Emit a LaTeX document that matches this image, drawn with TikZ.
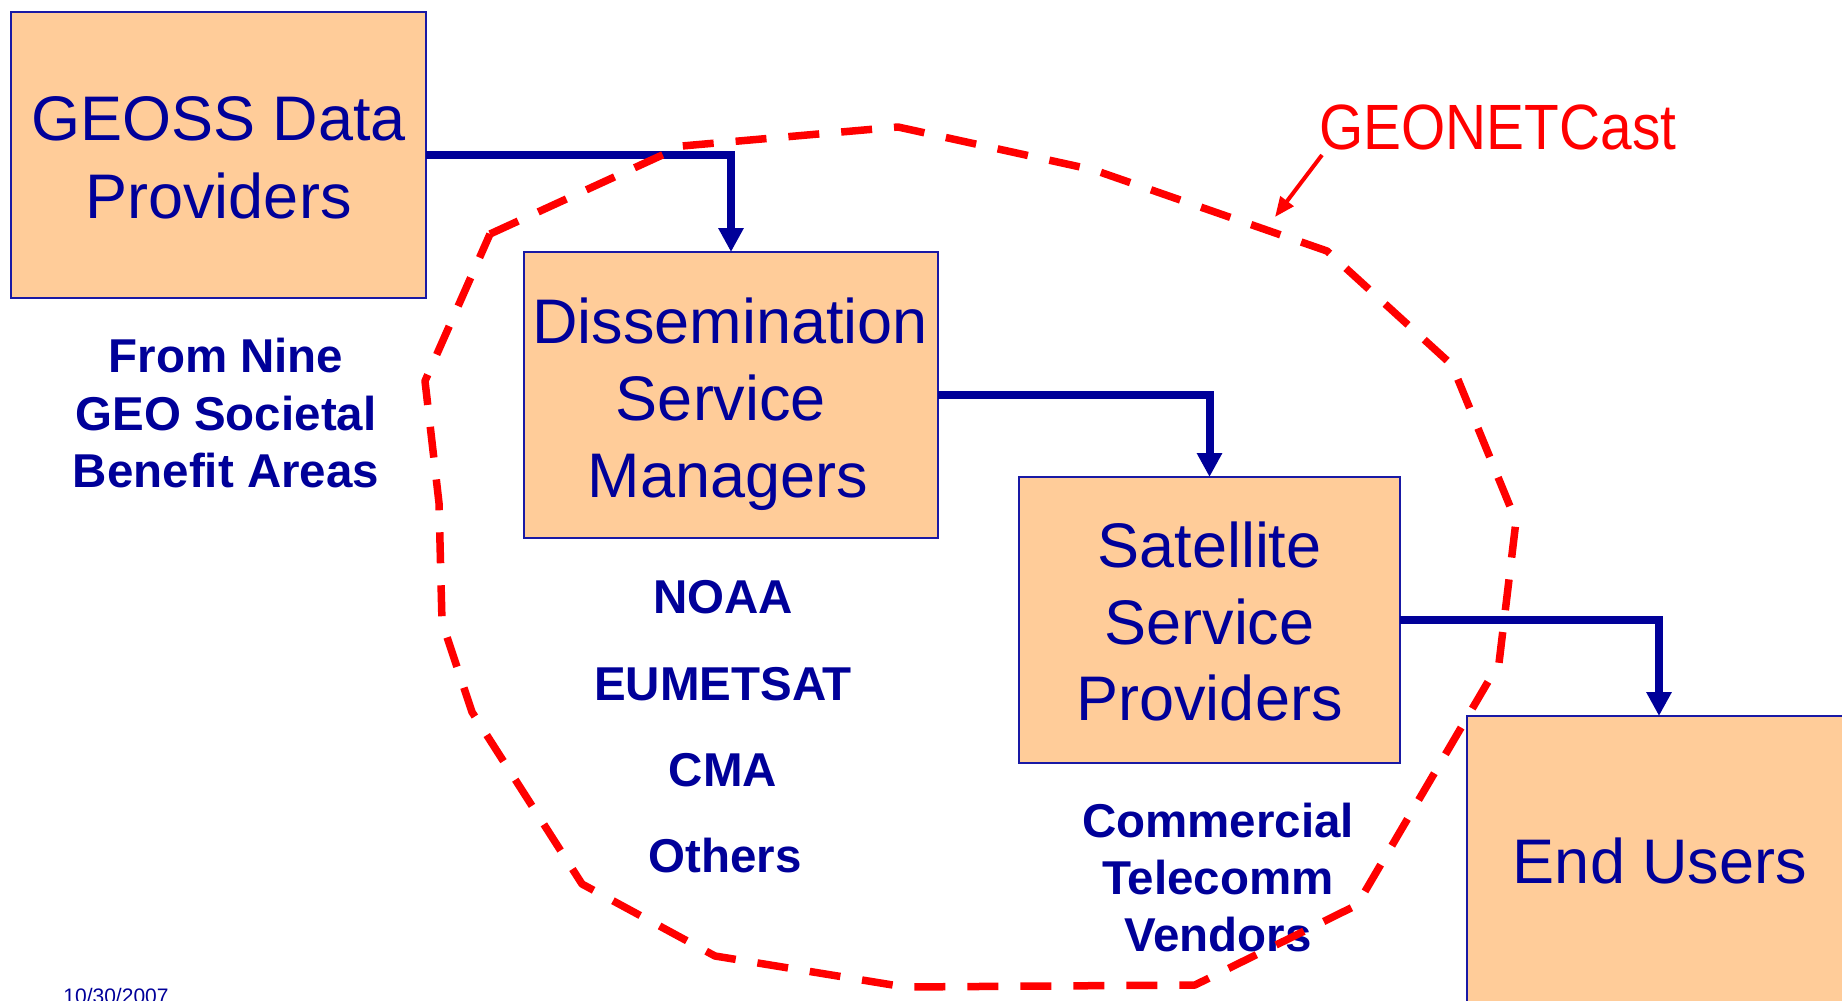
\documentclass[tikz,border=0pt]{standalone}
\usepackage{fontspec}
\usepackage{graphicx}
\setmainfont{Liberation Sans}
\usetikzlibrary{arrows.meta}
\definecolor{navy}{RGB}{0,0,153}
\definecolor{boxline}{RGB}{25,25,165}
\definecolor{peach}{RGB}{255,204,153}
\definecolor{geored}{RGB}{255,0,0}
\begin{document}
\begin{tikzpicture}[x=1pt,y=-1pt,
 box/.style={draw=boxline, line width=2pt, fill=peach, inner sep=0pt, outer sep=0pt, minimum height=286pt},
 flow/.style={draw=navy, line width=8pt, line join=miter, -{Triangle[width=24pt,length=24pt]}},
 txt/.style={anchor=base, inner sep=0pt, outer sep=0pt, text=navy},
 big/.style={txt, font=\fontsize{63}{63}\selectfont},
 lab/.style={txt, font=\bfseries\fontsize{47.5}{47.5}\selectfont},
 geo/.style={draw=geored, line width=7.5pt, dash pattern=on 31pt off 22pt, line join=round}]
\useasboundingbox (0,0) rectangle (1842,1001);
\clip (0,0) rectangle (1842,1001);
\fill[white] (0,0) rectangle (1842,1001);

% boxes
\node[box, minimum width=415pt] (b1) at (218.5,155) {};
\node[box, minimum width=414pt] (b2) at (731,395) {};
\node[box, minimum width=381pt] (b3) at (1209.5,620) {};
\node[box, minimum width=384pt, minimum height=292pt] (b4) at (1659,862) {};

% flow arrows
\draw[flow] (b1.east) -| (b2.north);
\draw[flow] (b2.east) -| (b3.north);
\draw[flow] (b3.east) -| (b4.north);

% box texts
\node[big] (t1a) at (218.5,140) {GEOSS Data};
\node[big] (t1b) at (218.5,218) {Providers};
\node[big] (t2a) at (730,343) {Dissemination};
\node[big] (t2b) at (721,420) {Service};
\node[big] (t2c) at (728,497) {Managers};
\node[big] (t3a) at (1209.5,567) {Satellite};
\node[big] (t3b) at (1209.5,644) {Service};
\node[big] (t3c) at (1209.5,720) {Providers};
\node[big] (t4a) at (1660,883) {End Users};

% labels
\node[lab] (l1a) at (226,372) {From Nine};
\node[lab] (l1b) at (226,430) {GEO Societal};
\node[lab] (l1c) at (226,487) {Benefit Areas};
\node[lab] (l2a) at (723,613) {NOAA};
\node[lab] (l2b) at (723,700) {EUMETSAT};
\node[lab] (l2c) at (723,786) {CMA};
\node[lab] (l2d) at (725,872) {Others};
\node[lab] (l3a) at (1218,837) {Commercial};
\node[lab] (l3b) at (1218,894) {Telecomm};
\node[lab] (l3c) at (1218,951) {Vendors};

% date
\node[txt, font=\fontsize{21}{21}\selectfont] (date) at (116,1003) {10/30/2007};

% GEONETCast outline
\draw[geo] (490,234) -- (682,146) -- (898,127) -- (1094,170) -- (1327,251)
  -- (1452,365) -- (1516,521) -- (1499,663) -- (1357,905) -- (1195,985)
  -- (905,987) -- (715,956) -- (582,884) -- (472,712) -- (442,622)
  -- (439,503) -- (425,381) -- cycle;

% GEONETCast label and pointer
\node[anchor=base, inner sep=0pt, text=geored, font=\fontsize{64}{64}\selectfont] (geolab) at (1498,149) {\scalebox{0.888}[1]{GEONETCast}};
\coordinate (geostart) at (1322,155);
\coordinate (geotip) at (1275,217);
\draw[draw=geored, line width=4pt, -{Triangle[width=16pt,length=20pt]}] (geostart) -- (geotip);
\end{tikzpicture}
\end{document}
